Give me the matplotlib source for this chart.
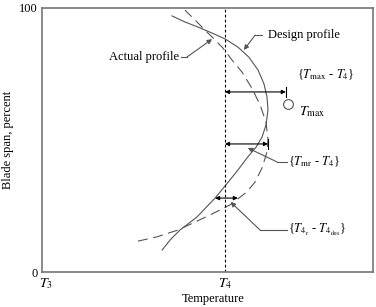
import numpy as np
import matplotlib.pyplot as plt

plt.rcParams['font.family'] = ['Liberation Serif', 'DejaVu Serif']
plt.rcParams['mathtext.fontset'] = 'stix'

# design profile (solid), temperature vs blade span
design_t = [36.3, 38.7, 41.7, 46.8, 52.3, 55.6, 59.2, 62.2, 64.7, 66.5, 67.7,
            68.3, 68.0, 67.1, 65.3, 62.5, 59.2, 55.3, 51.4, 47.1, 43.2, 39.3]
design_span = [8.3, 12.1, 15.9, 20.8, 28.0, 33.0, 38.6, 43.6, 47.3, 51.1, 55.7,
               61.4, 66.3, 71.2, 76.5, 81.4, 85.2, 88.3, 90.5, 92.8, 94.7, 97.0]

# actual profile (dashed)
actual_t = [29.0, 34.7, 41.1, 50.8, 56.8, 61.9, 64.4, 66.5, 68.0, 68.3,
            67.7, 65.9, 63.4, 60.4, 57.4, 54.7, 52.3, 49.2, 46.2, 43.2]
actual_span = [11.7, 13.3, 15.9, 21.6, 25.4, 30.3, 34.1, 39.4, 45.5, 50.0,
               56.8, 63.3, 69.7, 75.8, 80.3, 84.8, 87.9, 91.7, 95.5, 99.2]

T3, T4 = 0.0, 55.3
t_max = 74.0
t_max_span = 63.6
t_mr = 68.3
t4_actual, t4_design = 52.3, 59.2

gray = '#555555'
fs = 9

fig = plt.figure(figsize=(3.76, 3.07), dpi=100)
ax = fig.add_axes([0.1117, 0.114, 0.880, 0.860])
ax.set_xlim(0, 100)
ax.set_ylim(0, 100)

ax.plot(design_t, design_span, color=gray, lw=0.8)
ax.plot(actual_t, actual_span, color=gray, lw=0.8, dashes=(9, 5))
ax.axvline(T4, color='black', lw=0.8, dashes=(2.5, 2))

arrow = dict(arrowstyle='<|-|>', color='black', lw=0.8, mutation_scale=6, shrinkA=0, shrinkB=0)
# T_max - T4
ax.annotate('', xy=(t_max - 0.3, 68.2), xytext=(T4, 68.2), arrowprops=arrow)
ax.plot([t_max - 0.3] * 2, [66.3, 70.2], color='black', lw=0.8)
ax.plot(t_max + 0.3, t_max_span, 'o', ms=7, mfc='white', mec=gray, mew=0.8)
# T_mr - T4
ax.annotate('', xy=(t_mr, 48.5), xytext=(T4, 48.5), arrowprops=arrow)
ax.plot([t_mr] * 2, [46.5, 50.5], color='black', lw=0.8)
# T4r - T4des
ax.annotate('', xy=(t4_design, 28.0), xytext=(t4_actual, 28.0), arrowprops=arrow)

lead = dict(arrowstyle='-|>', color=gray, lw=0.8, mutation_scale=7, shrinkA=0, shrinkB=0)

def leader(text, tip, bend, end, ha, tx, ty, **kw):
    ax.plot([end[0], bend[0]], [end[1], bend[1]], color=gray, lw=0.8)
    ax.annotate('', xy=tip, xytext=bend, arrowprops=lead)
    ax.text(tx, ty, text, ha=ha, va='center', fontsize=fs, **kw)

leader('Actual profile', (51.4, 88.2), (43.8, 81.4), (41.9, 81.4), 'right', 41.3, 81.6)
leader('Design profile', (61.0, 84.1), (64.4, 89.7), (66.5, 89.7), 'left', 68.2, 89.9)
leader('{$T_{\\rm mr}$ - $T_4$}', (62.2, 47.0), (71.0, 41.7), (74.0, 41.7), 'left', 74.3, 41.9)
leader('{$T_{4_{\\rm r}}$ - $T_{4_{\\rm des}}$}', (57.0, 26.5), (65.9, 15.9), (74.0, 15.9), 'left', 74.3, 16.1)

ax.text(77.0, 74.8, '{$T_{\\rm max}$ - $T_4$}', ha='left', va='center', fontsize=fs)
ax.text(77.8, 60.6, '$T_{\\rm max}$', ha='left', va='center', fontsize=fs + 1)

ax.set_xticks([T3 + 1.2, T4])
ax.set_xticklabels(['$T_3$', '$T_4$'], fontsize=fs + 1)
ax.set_yticks([0, 100])
ax.set_yticklabels(['0', '100'], fontsize=fs)
ax.tick_params(length=0, pad=3)
ax.set_xlabel('Temperature', fontsize=fs)
ax.xaxis.set_label_coords((213 - 42) / 331, -0.08)
ax.set_ylabel('Blade span, percent', fontsize=fs, labelpad=4)

for s in ax.spines.values():
    s.set_color('#777777')
    s.set_linewidth(1.2)

fig.savefig('out.png', dpi=100)
